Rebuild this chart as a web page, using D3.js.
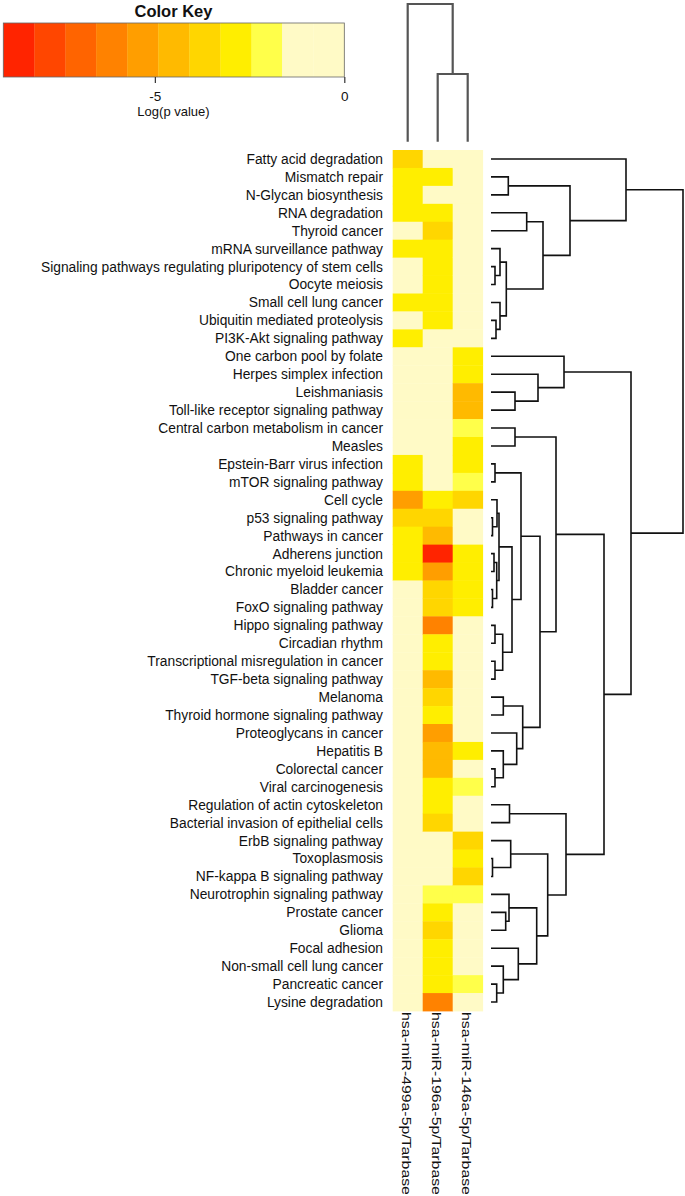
<!DOCTYPE html>
<html>
<head>
<meta charset="utf-8">
<script src="https://cdn.jsdelivr.net/npm/d3@7/dist/d3.min.js"></script>
<style>
  html, body { margin: 0; padding: 0; background: #fff; }
  svg { display: block; font-family: "Liberation Sans", Arial, Helvetica, sans-serif; }
</style>
</head>
<body>
<svg id="chart" width="685" height="1196"></svg>
<script>
// ---------------- DATA ----------------
const pathways = [
  "Fatty acid degradation", "Mismatch repair", "N-Glycan biosynthesis", "RNA degradation",
  "Thyroid cancer", "mRNA surveillance pathway",
  "Signaling pathways regulating pluripotency of stem cells", "Oocyte meiosis",
  "Small cell lung cancer", "Ubiquitin mediated proteolysis", "PI3K-Akt signaling pathway",
  "One carbon pool by folate", "Herpes simplex infection", "Leishmaniasis",
  "Toll-like receptor signaling pathway", "Central carbon metabolism in cancer", "Measles",
  "Epstein-Barr virus infection", "mTOR signaling pathway", "Cell cycle",
  "p53 signaling pathway", "Pathways in cancer", "Adherens junction",
  "Chronic myeloid leukemia", "Bladder cancer", "FoxO signaling pathway",
  "Hippo signaling pathway", "Circadian rhythm", "Transcriptional misregulation in cancer",
  "TGF-beta signaling pathway", "Melanoma", "Thyroid hormone signaling pathway",
  "Proteoglycans in cancer", "Hepatitis B", "Colorectal cancer", "Viral carcinogenesis",
  "Regulation of actin cytoskeleton", "Bacterial invasion of epithelial cells",
  "ErbB signaling pathway", "Toxoplasmosis", "NF-kappa B signaling pathway",
  "Neurotrophin signaling pathway", "Prostate cancer", "Glioma", "Focal adhesion",
  "Non-small cell lung cancer", "Pancreatic cancer", "Lysine degradation"
];

const mirnas = ["hsa-miR-499a-5p/Tarbase", "hsa-miR-196a-5p/Tarbase", "hsa-miR-146a-5p/Tarbase"];

// log(p value) per pathway, one array per miRNA (0 = not significant)
const logP_499a = [
  -3.7, -2.9, -2.9, -2.9, 0, -2.9, 0, 0, -2.9, 0, -2.9,
  0, 0, 0, 0, 0, 0, -2.9, -2.9, -5.3, -3.7, -2.9, -2.9, -2.9,
  0, 0, 0, 0, 0, 0, 0, 0, 0, 0, 0, 0, 0, 0, 0, 0, 0, 0, 0, 0, 0, 0, 0, 0
];
const logP_196a = [
  0, -2.9, 0, -2.9, -3.7, -2.9, -2.9, -2.9, -2.9, -2.9, 0,
  0, 0, 0, 0, 0, 0, 0, 0, -2.9, -3.7, -4.5, -8.4, -5.3,
  -3.7, -3.7, -6.2, -2.9, -2.9, -4.5, -3.7, -2.9, -5.3, -4.5, -4.5, -2.9,
  -2.9, -3.7, 0, 0, 0, -2.0, -2.9, -3.7, -2.9, -2.9, -2.9, -6.2
];
const logP_146a = [
  0, 0, 0, 0, 0, 0, 0, 0, 0, 0, 0,
  -2.9, -2.9, -4.5, -4.5, -2.0, -2.9, -2.9, -2.0, -3.7, 0, 0, -2.9, -2.9,
  -2.9, -2.9, 0, 0, 0, 0, 0, 0, 0, -2.9, 0, -2.0,
  0, 0, -3.7, -2.9, -3.7, -2.0, 0, 0, 0, 0, -2.0, 0
];

// colour key
const keyBreaks = [-9, -8.18, -7.36, -6.55, -5.73, -4.91, -4.09, -3.27, -2.45, -1.64, -0.82, 0];
const keyColors = ["#ff2400", "#ff4600", "#ff6400", "#ff8200", "#ff9e00", "#ffba00",
                   "#ffd600", "#ffee00", "#ffff4a", "#fffac6", "#fffac6"];
const keyTicks = [-5, 0];

// row dendrogram: [height, left, right], leaves = row index
const rowTree =
[192,
  [135, 0,
    [79, [17.3, 1, 2],
      [52, [35.7, 3, 4],
        [15.3, [9, 5, [4, 6, 7]], [9, 8, [5, 9, 10]]]
      ]
    ]
  ],
  [140,
    [73, 11, [47, 12, [24, 13, 14]]],
    [113,
      [65, [24, 15, 16],
        [49,
          [30, [4, 17, 18],
            [21,
              [8, [6, 19, [1.5, 20, 21]], [5.7, [3, 22, 23], [1.5, 24, 25]]],
              [11.7, [4, 26, 27], [4, 28, 29]]
            ]
          ],
          [31.7, [12.3, 30, 31], [25.7, 32, [12.3, 33, [4, 34, 35]]]]
        ]
      ],
      [75, [18.5, 36, 37],
        [56.7,
          [19.7, 38, [1.5, 39, 40]],
          [45.7, [18, 41, [14.7, 42, 43]], [27.3, 44, [12.3, 45, [5.7, 46, 47]]]]
        ]
      ]
    ]
  ]
];
const rowTreeMax = 192;

// column dendrogram
const colTree = [137.7, 0, [67.7, 1, 2]];
const colTreeMax = 137.7;

// ---------------- DRAW ----------------
const svg = d3.select("#chart");
const values = [logP_499a, logP_196a, logP_146a];

const x = d3.scaleBand().domain(d3.range(mirnas.length)).range([392.7, 482.7]);
const y = d3.scaleBand().domain(d3.range(pathways.length)).range([150, 1011]);
const color = d3.scaleThreshold().domain(keyBreaks.slice(1, -1)).range(keyColors);

// heatmap cells
const cells = [];
values.forEach((arr, j) => arr.forEach((v, i) => cells.push({ i, j, v })));
svg.append("g").selectAll("rect").data(cells).join("rect")
  .attr("x", d => x(d.j))
  .attr("y", d => y(d.i))
  .attr("width", x.bandwidth() + 0.4)
  .attr("height", y.bandwidth() + 0.4)
  .attr("fill", d => color(d.v));

// row labels
svg.append("g").selectAll("text").data(pathways).join("text")
  .attr("x", 383)
  .attr("y", (d, i) => y(i) + y.bandwidth() / 2)
  .attr("dy", "0.36em")
  .attr("text-anchor", "end")
  .attr("font-size", 13.8)
  .attr("fill", "#111")
  .text(d => d);

// column labels
svg.append("g").selectAll("text").data(mirnas).join("text")
  .attr("transform", (d, j) => `translate(${x(j) + x.bandwidth() / 2 - 1},1012) rotate(90) scale(1.2,1)`)
  .attr("dy", "0.36em")
  .attr("font-size", 13.2)
  .attr("fill", "#111")
  .text(d => d);

// dendrograms
const hx = d3.scaleLinear().domain([0, rowTreeMax]).range([491, 683]);
const rowPath = d3.path();
function rowRec(node) {
  if (typeof node === "number") return { p: y(node) + y.bandwidth() / 2, h: 0 };
  const [h, a, b] = node;
  const A = rowRec(a), B = rowRec(b);
  rowPath.moveTo(hx(A.h), A.p);
  rowPath.lineTo(hx(h), A.p);
  rowPath.lineTo(hx(h), B.p);
  rowPath.lineTo(hx(B.h), B.p);
  return { p: (A.p + B.p) / 2, h };
}
rowRec(rowTree);
svg.append("path").attr("d", rowPath.toString())
  .attr("fill", "none").attr("stroke", "#111").attr("stroke-width", 1.6);

const hy = d3.scaleLinear().domain([0, colTreeMax]).range([141.7, 4]);
const colPath = d3.path();
function colRec(node) {
  if (typeof node === "number") return { p: x(node) + x.bandwidth() / 2, h: 0 };
  const [h, a, b] = node;
  const A = colRec(a), B = colRec(b);
  colPath.moveTo(A.p, hy(A.h));
  colPath.lineTo(A.p, hy(h));
  colPath.lineTo(B.p, hy(h));
  colPath.lineTo(B.p, hy(B.h));
  return { p: (A.p + B.p) / 2, h };
}
colRec(colTree);
svg.append("path").attr("d", colPath.toString())
  .attr("fill", "none").attr("stroke", "#555").attr("stroke-width", 2.2);

// colour key
const kx = d3.scaleLinear().domain([keyBreaks[0], keyBreaks[keyBreaks.length - 1]]).range([3.3, 344.3]);
const key = svg.append("g");
key.selectAll("rect").data(keyColors).join("rect")
  .attr("x", (d, i) => kx(keyBreaks[i]))
  .attr("y", 23)
  .attr("width", (d, i) => kx(keyBreaks[i + 1]) - kx(keyBreaks[i]) + 0.3)
  .attr("height", 54)
  .attr("fill", d => d);
key.append("rect")
  .attr("x", kx(keyBreaks[0])).attr("y", 23)
  .attr("width", kx(0) - kx(keyBreaks[0])).attr("height", 54)
  .attr("fill", "none").attr("stroke", "#666").attr("stroke-width", 0.8);

const axis = d3.axisBottom(kx).tickValues(keyTicks).tickSize(6).tickPadding(8)
  .tickFormat(d => String(d));
const ag = key.append("g").attr("transform", "translate(0,77)").call(axis);
ag.select(".domain").remove();
ag.selectAll(".tick line").attr("stroke", "#333").attr("stroke-width", 1.2);
ag.selectAll(".tick text").attr("font-size", 13.5).attr("fill", "#111")
  .attr("font-family", "Liberation Sans, Arial, sans-serif");

key.append("text").attr("x", 173.5).attr("y", 17)
  .attr("text-anchor", "middle").attr("font-size", 16.5).attr("font-weight", "bold")
  .attr("fill", "#111").text("Color Key");
key.append("text").attr("x", 173.5).attr("y", 116)
  .attr("text-anchor", "middle").attr("font-size", 13).attr("fill", "#111")
  .text("Log(p value)");
</script>
</body>
</html>
